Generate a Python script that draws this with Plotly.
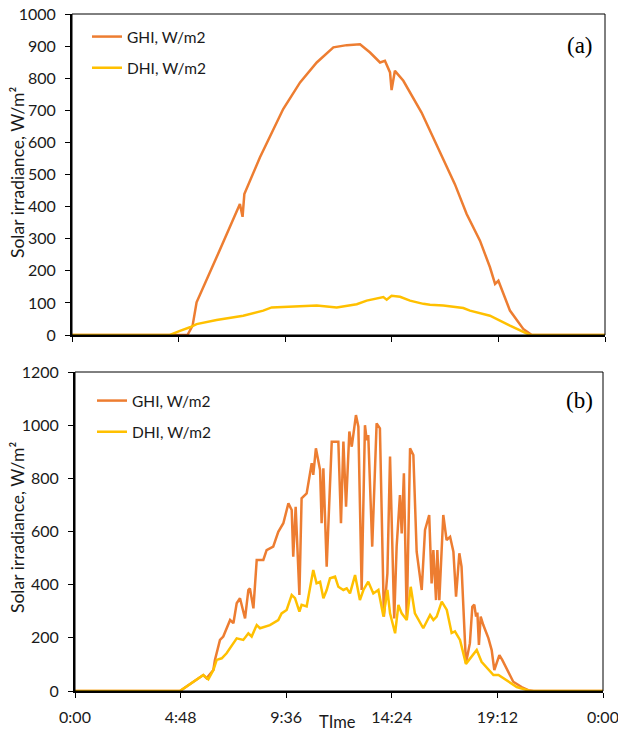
import plotly.graph_objects as go

# clear day (a): hours since midnight, W/m2
hours_a_ghi = [0, 5.2, 5.43, 5.61, 6.51, 7.56, 7.68, 7.76, 8.46, 9.22, 9.51, 10.27, 11.02, 11.77,
               12.37, 12.97, 13.42, 13.87, 14.09, 14.32, 14.39, 14.54, 14.92, 15.74, 17.02, 17.24,
               17.77, 18.37, 18.82, 19.05, 19.2, 19.72, 20.32, 20.7, 24]
ghi_a = [0, 0, 29, 102, 242, 408, 368, 439, 553, 662, 704, 787, 849, 896,
         903, 906, 880, 849, 854, 818, 763, 823, 792, 693, 501, 470,
         377, 294, 211, 159, 169, 76, 19, 0, 0]

hours_a_dhi = [0, 4.41, 4.86, 5.31, 5.61, 6.51, 7.71, 8.61, 8.99, 9.96, 11.02, 11.92, 12.82, 13.27,
               14.02, 14.17, 14.39, 14.77, 15.22, 15.82, 16.12, 16.72, 17.62, 17.92, 18.82, 19.72,
               20.62, 24]
dhi_a = [0, 0, 13, 24, 34, 47, 60, 76, 86, 88, 92, 86, 96, 107,
         118, 110, 122, 119, 107, 97, 94, 92, 84, 76, 60, 29,
         0, 0]

# cloudy day (b)
hours_b_ghi = [0, 4.77, 5.83, 5.98, 6.29, 6.36, 6.59, 6.74, 7.05, 7.2, 7.35, 7.5, 7.73, 7.88, 7.95,
               8.11, 8.26, 8.56, 8.71, 9.01, 9.24, 9.47, 9.7, 9.85, 9.92, 10.03, 10.2, 10.3, 10.53,
               10.76, 10.83, 10.95, 11.14, 11.21, 11.29, 11.44, 11.67, 11.97, 12.09, 12.2, 12.32,
               12.47, 12.58, 12.77, 12.88, 13.03, 13.18, 13.26, 13.33, 13.51, 13.71, 13.86, 14.04,
               14.2, 14.32, 14.51, 14.62, 14.77, 14.85, 14.95, 15.08, 15.23, 15.38, 15.53, 15.76,
               15.91, 16.1, 16.21, 16.29, 16.41, 16.47, 16.56, 16.74, 16.89, 17.05, 17.2, 17.32,
               17.47, 17.57, 17.77, 17.95, 18.06, 18.15, 18.23, 18.29, 18.36, 18.44, 18.56, 18.79,
               18.94, 19.06, 19.29, 19.42, 19.7, 19.92, 20.3, 20.6, 20.85, 24]
ghi_b = [0, 0, 60, 48, 79, 117, 192, 205, 267, 255, 330, 349, 273, 380, 386,
         311, 493, 493, 530, 543, 599, 631, 706, 681, 505, 693, 361, 725, 743,
         857, 813, 913, 831, 631, 838, 468, 938, 938, 631, 938, 693,
         976, 919, 1038, 994, 380, 1000, 944, 963, 543, 1007, 988, 280,
         443, 882, 273, 543, 737, 593, 819, 267, 913, 888, 524, 380,
         606, 662, 405, 530, 342, 530, 342, 662, 568, 580, 524, 355,
         518, 468, 105, 180, 317, 325, 280, 295, 173, 280, 248, 199,
         154, 79, 135, 117, 73, 35, 15, 3, 0, 0]

hours_b_dhi = [0, 4.77, 5.83, 6.06, 6.29, 6.44, 6.67, 6.89, 7.35, 7.65, 7.88, 8.03, 8.26, 8.41,
               8.86, 9.24, 9.39, 9.62, 9.85, 10.0, 10.2, 10.3, 10.53, 10.83, 10.98, 11.14, 11.29,
               11.44, 11.59, 11.82, 11.97, 12.2, 12.35, 12.5, 12.73, 12.95, 13.11, 13.33, 13.56,
               13.79, 14.02, 14.2, 14.32, 14.55, 14.7, 14.85, 15.08, 15.26, 15.45, 15.83, 16.14,
               16.29, 16.44, 16.67, 16.9, 17.12, 17.27, 17.5, 17.77, 18.03, 18.26, 18.48, 19.02,
               19.25, 19.62, 20.08, 20.68, 24]
dhi_b = [0, 0, 60, 44, 79, 117, 123, 142, 198, 192, 217, 205, 248, 236,
         248, 267, 292, 305, 361, 349, 299, 324, 318, 455, 405, 411, 349,
         380, 424, 430, 392, 380, 386, 367, 436, 342, 380, 411, 367,
         380, 280, 380, 292, 217, 324, 292, 267, 392, 292, 236, 286,
         267, 280, 336, 305, 218, 224, 192, 102, 130, 154, 110, 60,
         60, 41, 15, 0, 0]

tick_hours = [0, 4.8, 9.6, 14.4, 19.2, 24]
tick_labels = ["0:00", "4:48", "9:36", "14:24", "19:12", "0:00"]

GHI_COL = "#ED7D31"
DHI_COL = "#FFC000"
FONT = "Lato"
W, H = 618, 731

fig = go.Figure()
fig.add_trace(go.Scatter(x=hours_a_ghi, y=ghi_a, mode="lines", name="GHI, W/m2",
                         line=dict(color=GHI_COL, width=2.5), legend="legend", legendgroup="a1"))
fig.add_trace(go.Scatter(x=hours_a_dhi, y=dhi_a, mode="lines", name="DHI, W/m2",
                         line=dict(color=DHI_COL, width=2.5), legend="legend", legendgroup="a2"))
fig.add_trace(go.Scatter(x=hours_b_ghi, y=ghi_b, mode="lines", name="GHI, W/m2",
                         line=dict(color=GHI_COL, width=2.5), xaxis="x2", yaxis="y2",
                         legend="legend2", legendgroup="b1"))
fig.add_trace(go.Scatter(x=hours_b_dhi, y=dhi_b, mode="lines", name="DHI, W/m2",
                         line=dict(color=DHI_COL, width=2.5), xaxis="x2", yaxis="y2",
                         legend="legend2", legendgroup="b2"))

axis_common = dict(showgrid=False, zeroline=False, showline=True, linecolor="black", linewidth=2,
                   ticks="outside", ticklen=5, tickwidth=1, tickcolor="black", automargin=False,
                   tickfont=dict(family=FONT, size=16, color="#1a1a1a"))

xa = (72 / W, 605 / W)
xb = (75 / W, 603 / W)
ya = (1 - 335 / H, 1 - 14 / H)
yb = (1 - 691 / H, 1 - 372 / H)

fig.update_layout(
    width=W, height=H,
    margin=dict(l=0, r=0, t=0, b=0, autoexpand=False),
    plot_bgcolor="white", paper_bgcolor="white",
    font=dict(family=FONT, size=15, color="#1a1a1a"),
    xaxis=dict(axis_common, domain=xa, range=[0, 24], tickvals=tick_hours, showticklabels=False,
               anchor="y"),
    yaxis=dict(axis_common, domain=ya, range=[0, 1000], dtick=100, anchor="x",
               ticklabelstandoff=6),
    xaxis2=dict(axis_common, domain=xb, range=[0, 24], tickvals=tick_hours, ticktext=tick_labels,
                anchor="y2", ticklabelstandoff=6, ticklabeloverflow="allow"),
    yaxis2=dict(axis_common, domain=yb, range=[0, 1200], dtick=200, anchor="x2",
                ticklabelstandoff=6),
    legend=dict(x=87 / W, y=1 - 20 / H, xanchor="left", yanchor="top", bgcolor="rgba(0,0,0,0)",
                font=dict(family=FONT, size=15.5), tracegroupgap=8, traceorder="grouped"),
    legend2=dict(x=92 / W, y=1 - 384 / H, xanchor="left", yanchor="top", bgcolor="rgba(0,0,0,0)",
                 font=dict(family=FONT, size=15.5), tracegroupgap=8, traceorder="grouped"),
    showlegend=True,
)

# thin frame round each plot area
for xr, yr in (("x", "y"), ("x2", "y2")):
    fig.add_shape(type="rect", xref=xr + " domain", yref=yr + " domain", x0=0, x1=1, y0=0, y1=1,
                  line=dict(color="black", width=1), layer="above")

annos = [
    dict(text="(a)", x=0.953, y=0.903, xref="x domain", yref="y domain",
         font=dict(family="Liberation Serif", size=23, color="black")),
    dict(text="(b)", x=0.956, y=0.912, xref="x2 domain", yref="y2 domain",
         font=dict(family="Liberation Serif", size=23, color="black")),
    dict(text="Solar irradiance, W/m²", x=17 / W, y=1 - 173 / H, xref="paper", yref="paper",
         textangle=-90, font=dict(family=FONT, size=17.5)),
    dict(text="Solar irradiance, W/m²", x=17 / W, y=1 - 528 / H, xref="paper", yref="paper",
         textangle=-90, font=dict(family=FONT, size=17.5)),
    dict(text="TIme", x=337 / W, y=1 - 722 / H, xref="paper", yref="paper",
         font=dict(family=FONT, size=16.5)),
]
for a in annos:
    fig.add_annotation(showarrow=False, xanchor="center", yanchor="middle", **a)

# the page's default 8px body margin would shift the whole chart
fig.write_html("out.html", config={"displayModeBar": False},
               post_script="document.body.style.margin='0';")
